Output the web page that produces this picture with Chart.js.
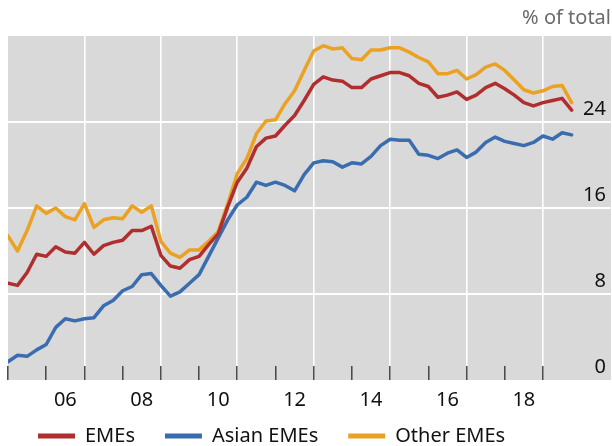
<!DOCTYPE html>
<html>
<head>
<meta charset="utf-8">
<script src="https://cdn.jsdelivr.net/npm/chart.js@4.4.1/dist/chart.umd.min.js"></script>
<style>
  html, body { margin: 0; padding: 0; background: #fff; }
  #wrap { width: 612px; height: 446px; position: relative; }
</style>
</head>
<body>
<div id="wrap"><canvas id="chart"></canvas></div>
<script>
// quarterly observations, 2005 Q1 .. 2019 Q4
const quarters = [];
for (let yr = 2005; yr <= 2019; yr++) {
    for (let q = 0; q < 4; q++) quarters.push(yr + q / 4);
}

const emes = [
    9.0, 8.8, 10.0, 11.7, 11.5, 12.4, 11.9, 11.8, 12.8, 11.7, 12.5, 12.8, 13.0, 13.9, 13.9, 14.3,
    11.6, 10.6, 10.4, 11.2, 11.5, 12.6, 13.6, 16.1, 18.4, 19.7, 21.7, 22.5, 22.7, 23.7, 24.6, 26.0,
    27.5, 28.2, 27.9, 27.8, 27.2, 27.2, 28.0, 28.3, 28.6, 28.6, 28.3, 27.6, 27.3, 26.3, 26.5, 26.8,
    26.1, 26.5, 27.2, 27.6, 27.1, 26.5, 25.8, 25.5, 25.8, 26.0, 26.2, 25.1
];
const asianEmes = [
    1.7, 2.3, 2.2, 2.8, 3.3, 4.9, 5.7, 5.5, 5.7, 5.8, 6.9, 7.4, 8.3, 8.7, 9.8, 9.9,
    8.8, 7.8, 8.2, 9.0, 9.8, 11.5, 13.2, 14.9, 16.3, 17.0, 18.4, 18.1, 18.4, 18.1, 17.6, 19.1,
    20.2, 20.4, 20.3, 19.8, 20.2, 20.1, 20.8, 21.8, 22.4, 22.3, 22.3, 21.0, 20.9, 20.6, 21.1, 21.4,
    20.7, 21.2, 22.1, 22.6, 22.2, 22.0, 21.8, 22.1, 22.7, 22.4, 23.0, 22.8
];
const otherEmes = [
    13.4, 12.0, 13.9, 16.2, 15.5, 16.0, 15.2, 14.9, 16.4, 14.2, 14.9, 15.1, 15.0, 16.2, 15.6, 16.2,
    12.9, 11.8, 11.4, 12.1, 12.1, 12.9, 13.8, 16.4, 19.2, 20.6, 22.9, 24.1, 24.2, 25.7, 26.9, 28.8,
    30.6, 31.1, 30.8, 30.9, 29.9, 29.8, 30.7, 30.7, 30.9, 30.9, 30.5, 30.0, 29.6, 28.5, 28.5, 28.8,
    28.0, 28.4, 29.1, 29.4, 28.8, 27.9, 27.0, 26.7, 26.9, 27.3, 27.4, 25.8
];

// x axis: tick marks every year, white lines every other year, labels mid-year
const tickYears = [2005, 2006, 2007, 2008, 2009, 2010, 2011, 2012, 2013, 2014, 2015, 2016, 2017, 2018, 2019];
const gridYears = [2007, 2009, 2011, 2013, 2015, 2017, 2019];
const labelYears = [2006.5, 2008.5, 2010.5, 2012.5, 2014.5, 2016.5, 2018.5];
const tickLabels = ['06', '08', '10', '12', '14', '16', '18'];
const yTicks = [0, 8, 16, 24];

const FONT = "'Noto Sans', 'DejaVu Sans', sans-serif";
const clear = 'rgba(0,0,0,0)';

const plotBg = {
    id: 'plotBg',
    beforeDraw(chart) {
        const { ctx, chartArea: a } = chart;
        ctx.save();
        ctx.fillStyle = '#d9d9d9';
        ctx.fillRect(a.left, a.top, a.right - a.left, a.bottom - a.top);
        ctx.restore();
    }
};

new Chart(document.getElementById('chart'), {
    type: 'line',
    data: {
        labels: quarters,
        datasets: [
            { label: 'EMEs', data: emes, borderColor: '#b02e2e', backgroundColor: '#b02e2e' },
            { label: 'Asian EMEs', data: asianEmes, borderColor: '#3a6db0', backgroundColor: '#3a6db0' },
            { label: 'Other EMEs', data: otherEmes, borderColor: '#eba122', backgroundColor: '#eba122' }
        ]
    },
    options: {
        responsive: true,
        maintainAspectRatio: false,
        animation: false,
        layout: { padding: { left: 8, right: 1, top: 0, bottom: 0 } },
        elements: {
            line: { borderWidth: 3.5, tension: 0, borderCapStyle: 'round', borderJoinStyle: 'round' },
            point: { radius: 0, hoverRadius: 0 }
        },
        scales: {
            x: {
                type: 'linear',
                min: 2005,
                max: 2020.78,
                afterBuildTicks: (scale) => {
                    scale.ticks = tickYears.concat(labelYears)
                        .sort((a, b) => a - b)
                        .map(v => ({ value: v }));
                },
                // keep the axis box thin; labels are placed below it (mirror = no clipping)
                afterFit: (scale) => {
                    scale.height = 16;
                    scale.paddingLeft = 0;
                    scale.paddingRight = 0;
                },
                border: { display: false },
                grid: {
                    color: (c) => (c.tick && gridYears.includes(c.tick.value)) ? '#ffffff' : clear,
                    lineWidth: 1.6,
                    drawTicks: true,
                    tickLength: -14,
                    tickWidth: 1.4,
                    tickColor: (c) => (c.tick && Number.isInteger(c.tick.value)) ? '#3a3a3a' : clear
                },
                ticks: {
                    autoSkip: false,
                    maxRotation: 0,
                    mirror: true,
                    padding: -32,
                    color: '#111',
                    font: { family: FONT, size: 20 },
                    callback: (v) => {
                        const i = labelYears.indexOf(v);
                        return i >= 0 ? tickLabels[i] : '';
                    }
                }
            },
            y: {
                position: 'right',
                min: 0,
                max: 32,
                afterFit: (scale) => { scale.width = 0; },
                border: { display: false },
                grid: {
                    color: (c) => (c.tick && c.tick.value > 0 && c.tick.value < 32) ? '#ffffff' : clear,
                    lineWidth: 2,
                    drawTicks: false
                },
                ticks: {
                    stepSize: 8,
                    mirror: true,
                    padding: -5,
                    labelOffset: -13,
                    color: '#111',
                    font: { family: FONT, size: 20 },
                    callback: (v) => yTicks.includes(v) ? String(v) : ''
                }
            }
        },
        plugins: {
            title: {
                display: true,
                text: '% of total',
                align: 'end',
                color: '#6b6b6b',
                font: { family: FONT, size: 20, weight: 'normal', lineHeight: 1.2 },
                padding: { top: 6, bottom: 6 }
            },
            legend: {
                position: 'bottom',
                align: 'start',
                maxHeight: 50,
                labels: {
                    boxWidth: 37,
                    boxHeight: 5,
                    padding: 30,
                    color: '#111',
                    font: { family: FONT, size: 20 },
                    generateLabels: (c) => Chart.defaults.plugins.legend.labels.generateLabels(c)
                        .map(item => Object.assign(item, { lineWidth: 0 }))
                }
            },
            tooltip: { enabled: false }
        }
    },
    plugins: [plotBg]
});
</script>
</body>
</html>
